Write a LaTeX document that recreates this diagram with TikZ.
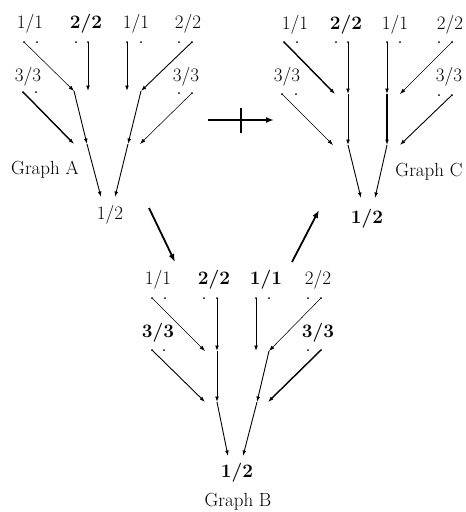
\documentclass[tikz,border=0pt]{standalone}
\usetikzlibrary{arrows.meta}
\tikzset{
  lbl/.style={inner sep=0pt, font=\fontsize{19}{22}\selectfont},
  blbl/.style={lbl, font=\fontsize{19}{22}\selectfont\bfseries},
  arr/.style={-{Latex[length=5.5pt,width=3.8pt]}, line width=0.9pt},
  thinarr/.style={arr, line width=0.55pt},
  thkarr/.style={arr, line width=1.4pt},
  bigarr/.style={-{Latex[length=8pt,width=6pt]}, line width=1.8pt}
}
\newcommand{\pairdot}[4]{%
  \coordinate (#1-l) at (#2,#4); \coordinate (#1-r) at (#3,#4);
  \fill (#1-l) circle (1pt); \fill (#1-r) circle (1pt);}
\newcommand{\pairhid}[4]{%
  \coordinate (#1-l) at (#2,#4); \coordinate (#1-r) at (#3,#4);}
\begin{document}
\begin{tikzpicture}[x=1pt,y=-1pt]
\useasboundingbox (0,0) rectangle (466,512);
% ---------------- Graph A ----------------
\node[lbl]  (a11Lt) at (30,24) {1/1};
\node[blbl] (a22Lt) at (86,24) {2/2};
\node[lbl]  (a11Rt) at (136,24) {1/1};
\node[lbl]  (a22Rt) at (188,24) {2/2};
\node[lbl]  (a33Lt) at (28,77) {3/3};
\node[lbl]  (a33Rt) at (186,77) {3/3};
\node[lbl]  (a12t) at (110,215) {1/2};
\node[lbl]  (gA) at (45,170) {Graph A};
\pairdot{a11L}{24}{37}{42}
\pairdot{a22L}{76}{88}{42}
\pairdot{a11R}{127}{141}{42}
\pairdot{a22R}{179}{192}{42}
\pairdot{a33L}{23}{36}{92}
\pairdot{a33R}{179}{192}{93}
\pairhid{A2L}{74}{88}{91}
\pairhid{A2R}{127}{141}{91}
\pairhid{A3L}{74}{87}{144}
\pairhid{A3R}{128}{140}{144}
\pairhid{A12}{101}{115}{197}
\draw[thinarr] (a11L-l) -- (A2L-l);
\draw[arr] (a22L-r) -- (A2L-r);
\draw[arr] (a11R-l) -- (A2R-l);
\draw[arr] (a22R-r) -- (A2R-r);
\draw[arr] (A2L-l) -- (A3L-r);
\draw[thkarr] (a33L-l) -- (A3L-l);
\draw[arr] (A2R-r) -- (A3R-l);
\draw[thinarr] (a33R-r) -- (A3R-r);
\draw[arr] (A3L-r) -- (A12-l);
\draw[arr] (A3R-l) -- (A12-r);
% ---------------- Graph C ----------------
\node[lbl]  (c11Lt) at (295,25) {1/1};
\node[blbl] (c22Lt) at (346,25) {2/2};
\node[lbl]  (c11Rt) at (395,25) {1/1};
\node[lbl]  (c22Rt) at (450,25) {2/2};
\node[lbl]  (c33Lt) at (287,77) {3/3};
\node[lbl]  (c33Rt) at (449,77) {3/3};
\node[blbl] (c12t) at (367,219) {1/2};
\node[lbl]  (gC) at (429,172) {Graph C};
\pairdot{c11L}{284}{297}{42}
\pairdot{c22L}{336}{348}{42}
\pairdot{c11R}{387}{400}{42}
\pairdot{c22R}{439}{452}{42}
\pairdot{c33L}{282}{296}{94}
\pairdot{c33R}{439}{452}{95}
\pairhid{C2L}{335}{348}{94}
\pairhid{C2R}{387}{400}{94}
\pairhid{C3L}{333}{348}{145}
\pairhid{C3R}{387}{400}{145}
\pairhid{C12}{361}{375}{198}
\draw[thkarr] (c11L-l) -- (C2L-l);
\draw[arr] (c22L-r) -- (C2L-r);
\draw[arr] (c11R-l) -- (C2R-l);
\draw[thinarr] (c22R-r) -- (C2R-r);
\draw[arr] (C2L-r) -- (C3L-r);
\draw[thinarr] (c33L-l) -- (C3L-l);
\draw[thkarr] (C2R-l) -- (C3R-l);
\draw[arr] (c33R-r) -- (C3R-r);
\draw[arr] (C3L-r) -- (C12-l);
\draw[arr] (C3R-l) -- (C12-r);
% ---------------- Graph B ----------------
\node[lbl]  (b11Lt) at (158,280) {1/1};
\node[blbl] (b22Lt) at (214,280) {2/2};
\node[blbl] (b11Rt) at (266,280) {1/1};
\node[lbl]  (b22Rt) at (318,280) {2/2};
\node[blbl] (b33Lt) at (158,333) {3/3};
\node[blbl] (b33Rt) at (318,333) {3/3};
\node[blbl] (b12t) at (237,473) {1/2};
\node[lbl]  (gB) at (238,502) {Graph B};
\pairdot{b11L}{152}{165}{298}
\pairdot{b22L}{204}{217}{298}
\pairdot{b11R}{256}{269}{298}
\pairdot{b22R}{308}{321}{298}
\pairdot{b33L}{152}{164}{350}
\pairdot{b33R}{308}{321}{350}
\pairhid{B2L}{205}{217}{351}
\pairhid{B2R}{256}{269}{351}
\pairhid{B3L}{205}{217}{402}
\pairhid{B3R}{257}{268}{402}
\pairhid{B12}{228}{243}{456}
\draw[thinarr] (b11L-l) -- (B2L-l);
\draw[arr] (b22L-r) -- (B2L-r);
\draw[arr] (b11R-l) -- (B2R-l);
\draw[thinarr] (b22R-r) -- (B2R-r);
\draw[arr] (B2L-r) -- (B3L-r);
\draw[arr] (b33L-l) -- (B3L-l);
\draw[arr] (B2R-r) -- (B3R-l);
\draw[thkarr] (b33R-r) -- (B3R-r);
\draw[arr] (B3L-r) -- (B12-l);
\draw[arr] (B3R-l) -- (B12-r);
% ---------------- connecting arrows ----------------
\coordinate (ab1) at (149,208); \coordinate (ab2) at (175,262);
\coordinate (bc1) at (292,262); \coordinate (bc2) at (319,210);
\coordinate (ac1) at (208,120); \coordinate (ac2) at (274,120);
\coordinate (tk1) at (241,108); \coordinate (tk2) at (241,133);
\draw[bigarr] (ab1) -- (ab2);
\draw[bigarr] (bc1) -- (bc2);
\draw[bigarr] (ac1) -- (ac2);
\draw[line width=1.8pt] (tk1) -- (tk2);
\end{tikzpicture}
\end{document}
